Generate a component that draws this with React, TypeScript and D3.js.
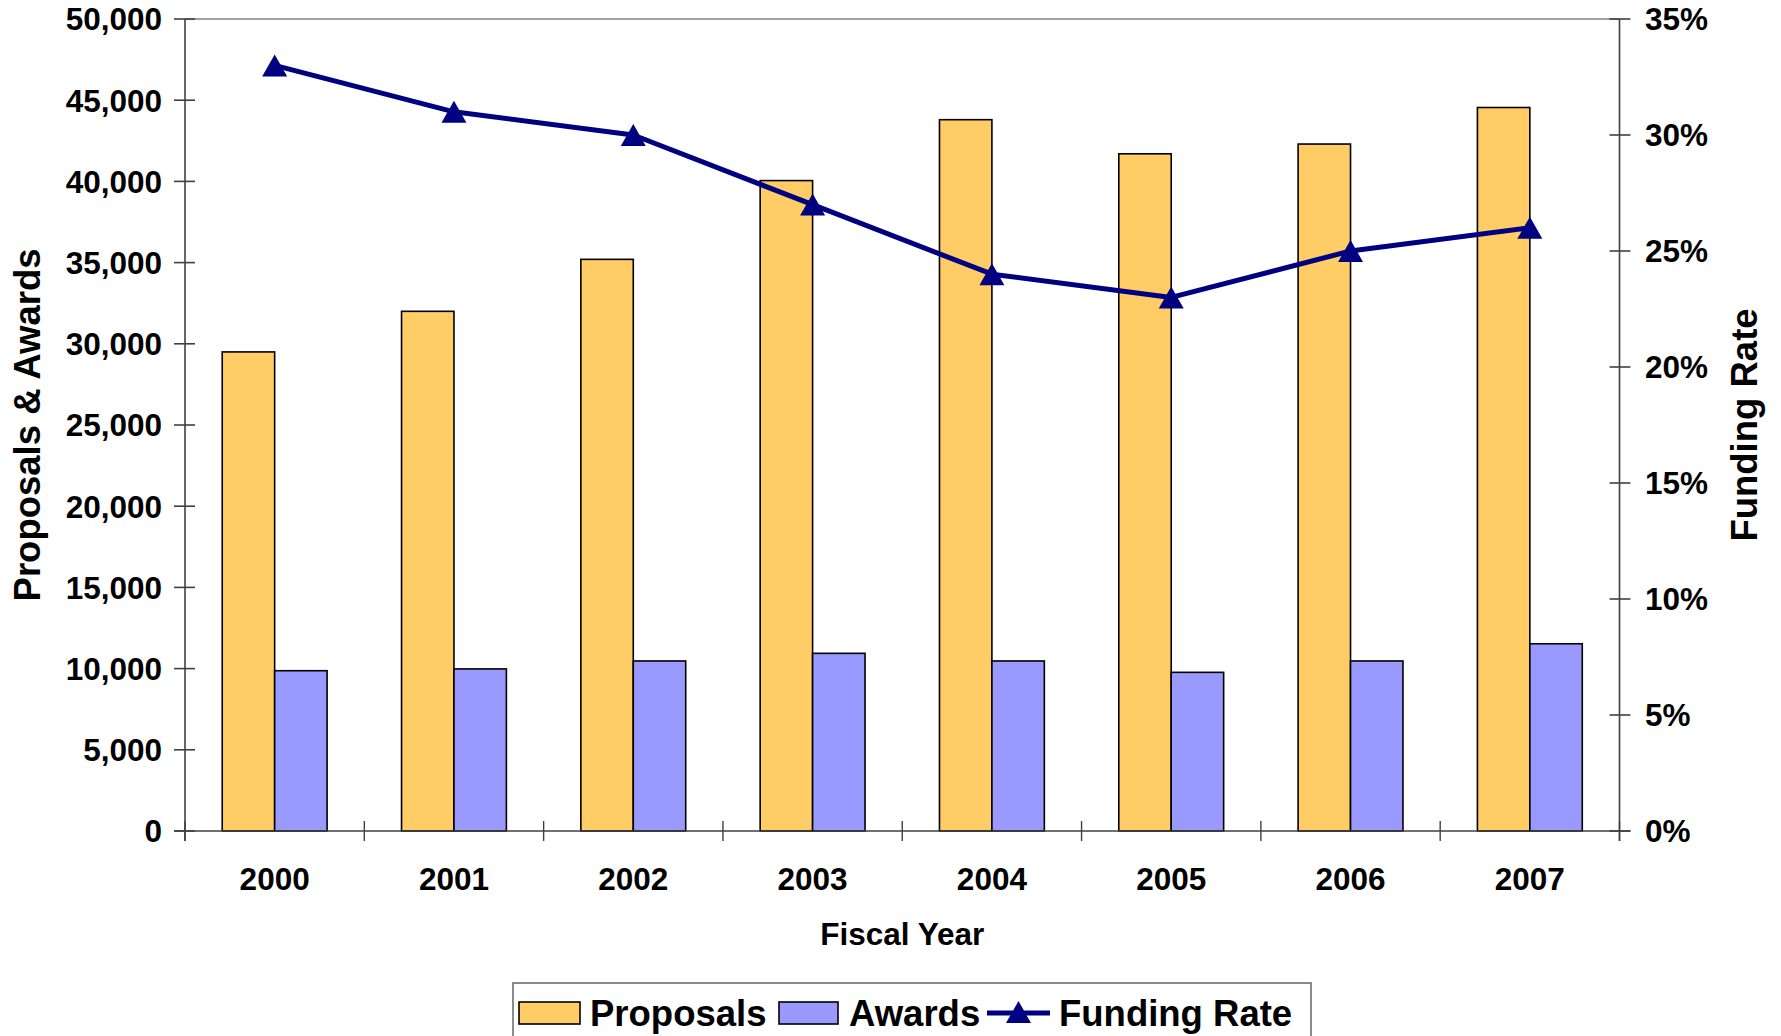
import React from "react";
import * as d3 from "d3";

const years = ["2000", "2001", "2002", "2003", "2004", "2005", "2006", "2007"];
const proposals = [29500, 32000, 35200, 40050, 43800, 41700, 42300, 44550];
const awards = [9870, 9980, 10470, 10940, 10470, 9770, 10470, 11530];
const fundingRate = [0.33, 0.31, 0.30, 0.27, 0.24, 0.23, 0.25, 0.26];
const leftTicks = [0, 5000, 10000, 15000, 20000, 25000, 30000, 35000, 40000, 45000, 50000];
const rightTicks = [0, 0.05, 0.1, 0.15, 0.2, 0.25, 0.3, 0.35];
const seriesNames = ["Proposals", "Awards"];
const seriesColors = ["#FFCC66", "#9999FF"];
const lineColor = "#000080";

const W = 1781;
const H = 1036;
const L = 185;
const R = 1619.5;
const T = 19;
const B = 831;
const FONT = "'Liberation Sans', Arial, Helvetica, sans-serif";

export default function App() {
  const x = d3.scaleBand<string>().domain(years).range([L, R]).paddingInner(0).paddingOuter(0);
  const xs = d3.scaleBand<string>().domain(seriesNames).range([0, x.bandwidth()]).paddingInner(0).paddingOuter(0.71);
  const y = d3.scaleLinear().domain([0, 50000]).range([B, T]);
  const yr = d3.scaleLinear().domain([0, 0.35]).range([B, T]);
  const fmtL = d3.format(",");
  const fmtR = d3.format(".0%");
  const cx = (yr0: string) => (x(yr0) as number) + x.bandwidth() / 2;
  const line = d3
    .line<number>()
    .x((_, i) => cx(years[i]))
    .y((d) => yr(d));
  const tri = (px: number, py: number) =>
    `M${px},${py - 11}L${px + 12.5},${py + 11}L${px - 12.5},${py + 11}Z`;
  const catTicks = [...years.map((d) => x(d) as number), R];

  return (
    <svg
      width={W}
      height={H}
      viewBox={`0 0 ${W} ${H}`}
      style={{ position: "absolute", left: 0, top: 0, background: "#fff" }}
      fontFamily={FONT}
      fontWeight="bold"
    >
      <rect x={0} y={0} width={W} height={H} fill="#fff" />
      {/* top border */}
      <line x1={L} x2={R} y1={T} y2={T} stroke="#a0a0a0" strokeWidth={1.8} />

      {/* bars */}
      {years.map((yr0, i) => (
        <g key={yr0}>
          {[proposals[i], awards[i]].map((v, j) => (
            <rect
              key={j}
              x={(x(yr0) as number) + (xs(seriesNames[j]) as number)}
              y={y(v)}
              width={xs.bandwidth()}
              height={B - y(v)}
              fill={seriesColors[j]}
              stroke="#000"
              strokeWidth={1.6}
            />
          ))}
        </g>
      ))}

      {/* axes */}
      <line x1={L} x2={L} y1={T} y2={B + 10} stroke="#404040" strokeWidth={1.6} />
      <line x1={R} x2={R} y1={T} y2={B + 10} stroke="#404040" strokeWidth={1.6} />
      <line x1={L - 11} x2={R + 11} y1={B} y2={B} stroke="#404040" strokeWidth={1.6} />
      {leftTicks.map((t) => (
        <g key={t}>
          <line x1={L - 11} x2={L + 10} y1={y(t)} y2={y(t)} stroke="#404040" strokeWidth={1.6} />
          <text x={162} y={y(t)} dy="0.36em" textAnchor="end" fontSize={31.5} fill="#000">
            {fmtL(t)}
          </text>
        </g>
      ))}
      {rightTicks.map((t) => (
        <g key={t}>
          <line x1={R - 10} x2={R + 11} y1={yr(t)} y2={yr(t)} stroke="#404040" strokeWidth={1.6} />
          <text x={1645} y={yr(t)} dy="0.36em" textAnchor="start" fontSize={31.5} fill="#000">
            {fmtR(t)}
          </text>
        </g>
      ))}
      {catTicks.map((t, i) => (
        <line key={i} x1={t} x2={t} y1={B - 10} y2={B + 10} stroke="#404040" strokeWidth={1.4} />
      ))}
      {years.map((yr0) => (
        <text key={yr0} x={cx(yr0)} y={890} textAnchor="middle" fontSize={31.5} fill="#000">
          {yr0}
        </text>
      ))}

      {/* line series */}
      <path d={line(fundingRate) || ""} fill="none" stroke={lineColor} strokeWidth={5} strokeLinejoin="round" />
      {fundingRate.map((v, i) => (
        <path key={i} d={tri(cx(years[i]), yr(v))} fill={lineColor} />
      ))}

      {/* axis titles */}
      <text x={(L + R) / 2} y={945} textAnchor="middle" fontSize={31.5} fill="#000">
        Fiscal Year
      </text>
      <text
        transform={`translate(40,${(T + B) / 2}) rotate(-90)`}
        textAnchor="middle"
        fontSize={36.5}
        fill="#000"
      >
        Proposals &amp; Awards
      </text>
      <text
        transform={`translate(1757,${(T + B) / 2}) rotate(-90)`}
        textAnchor="middle"
        fontSize={36.5}
        fill="#000"
      >
        Funding Rate
      </text>

      {/* legend */}
      <rect x={513} y={983} width={798} height={70} fill="#fff" stroke="#808080" strokeWidth={1.8} />
      <rect x={519} y={1002} width={61} height={22} fill={seriesColors[0]} stroke="#000" strokeWidth={1.6} />
      <text x={590} y={1026} fontSize={36.5} fill="#000">
        {seriesNames[0]}
      </text>
      <rect x={779} y={1002} width={59} height={22} fill={seriesColors[1]} stroke="#000" strokeWidth={1.6} />
      <text x={849} y={1026} fontSize={36.5} fill="#000">
        {seriesNames[1]}
      </text>
      <line x1={987} x2={1050} y1={1013} y2={1013} stroke={lineColor} strokeWidth={5} />
      <path d={tri(1018.5, 1012)} fill={lineColor} />
      <text x={1059} y={1026} fontSize={36.5} fill="#000">
        Funding Rate
      </text>
    </svg>
  );
}
